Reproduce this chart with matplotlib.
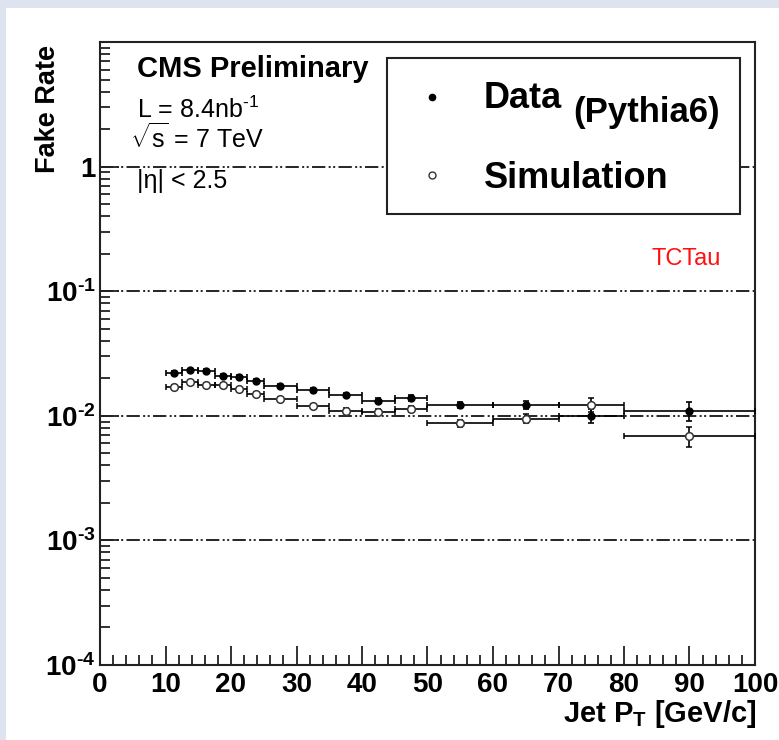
import matplotlib
matplotlib.use("Agg")
import matplotlib.pyplot as plt
import matplotlib.patches as patches
import numpy as np

plt.rcParams['font.family'] = ['Liberation Sans', 'DejaVu Sans']
plt.rcParams['mathtext.fontset'] = 'custom'
plt.rcParams['mathtext.rm'] = 'Liberation Sans'
plt.rcParams['mathtext.it'] = 'Liberation Sans:italic'
plt.rcParams['mathtext.bf'] = 'Liberation Sans:bold'

# ---- data ----
bin_lo = [10, 12.5, 15, 17.5, 20, 22.5, 25, 30, 35, 40, 45, 50, 60, 70, 80]
bin_hi = [12.5, 15, 17.5, 20, 22.5, 25, 30, 35, 40, 45, 50, 60, 70, 80, 100]
data_rate = [0.0222, 0.0231, 0.0229, 0.0210, 0.0204, 0.0190, 0.0175, 0.0161,
             0.0147, 0.0132, 0.0139, 0.0122, 0.0122, 0.0100, 0.0110]
data_err = [0.0008, 0.0008, 0.0008, 0.0007, 0.0007, 0.0006, 0.0006, 0.0006,
            0.0006, 0.0006, 0.0007, 0.0007, 0.0009, 0.0013, 0.0019]
sim_rate = [0.0170, 0.0186, 0.0177, 0.0177, 0.0163, 0.0150, 0.0136, 0.0120,
            0.0110, 0.0108, 0.0113, 0.0087, 0.0095, 0.0123, 0.0069]
sim_err = [0.0006, 0.0006, 0.0006, 0.0006, 0.0005, 0.0005, 0.0005, 0.0005,
           0.0005, 0.0005, 0.0006, 0.0006, 0.0008, 0.0016, 0.0013]
x_ticks = [0, 10, 20, 30, 40, 50, 60, 70, 80, 90, 100]
y_decades = [1e-4, 1e-3, 1e-2, 1e-1, 1]
y_tick_labels = ['10$^{\\mathbf{\u2010' + e + '}}$' for e in ['4', '3', '2', '1']] + ['1']

W, H = 779, 740
fig = plt.figure(figsize=(W / 100, H / 100), dpi=100)
fig.patch.set_facecolor('#dde4f0')
fig.patches.append(patches.Rectangle((6 / W, 0), 1, 1 - 8 / H, transform=fig.transFigure,
                                     facecolor='white', edgecolor='none', zorder=-10))

def fx(px):
    return px / W

def fy(py):
    return 1 - py / H

ax = fig.add_axes([fx(100), fy(665), (755 - 100) / W, (665 - 42) / H], zorder=1)
ax.set_facecolor('white')
ax.set_yscale('log')
ax.set_xlim(0, 100)
ax.set_ylim(1e-4, 10)

for s in ax.spines.values():
    s.set_linewidth(1.5)
    s.set_color('#222222')

ax.set_xticks(x_ticks)
ax.set_xticks(np.arange(0, 101, 2), minor=True)
ax.set_yticks(y_decades)
ax.set_yticklabels(y_tick_labels)
ax.tick_params(axis='both', which='major', direction='in', length=14, width=1.3,
               labelsize=20, top=False, right=False, color='#222222')
ax.tick_params(axis='both', which='minor', direction='in', length=7, width=1.3,
               top=False, right=False, color='#222222')
ax.tick_params(axis='x', which='major', pad=5)
ax.tick_params(axis='y', which='major', pad=3)
ax.yaxis.set_minor_locator(matplotlib.ticker.LogLocator(base=10, subs=np.arange(2, 10)))
ax.yaxis.set_minor_formatter(matplotlib.ticker.NullFormatter())
for lab in ax.get_xticklabels() + ax.get_yticklabels():
    lab.set_fontweight('bold')

# grid lines at decades
for yv in y_decades[1:]:
    ax.axhline(yv, color='black', linewidth=1.2,
               linestyle=(0, (8, 2, 1.2, 1.5, 1.2, 2)), zorder=1)

xc = [(a + b) / 2 for a, b in zip(bin_lo, bin_hi)]
xe = [(b - a) / 2 for a, b in zip(bin_lo, bin_hi)]

ax.errorbar(xc, data_rate, xerr=xe, yerr=data_err, fmt='o', color='black',
            markersize=5, markerfacecolor='black', markeredgecolor='black',
            elinewidth=1.2, capsize=2.5, capthick=1.2, zorder=3)
ax.errorbar(xc, sim_rate, xerr=xe, yerr=sim_err, fmt='o', color='black',
            markersize=5.5, markerfacecolor='white', markeredgecolor='#333333',
            markeredgewidth=1.1, elinewidth=1.2, capsize=2.5, capthick=1.2, zorder=3)

# legend box (manual, opaque)
leg = patches.Rectangle((fx(387), fy(214)), (740 - 387) / W, (214 - 58) / H,
                        transform=fig.transFigure, facecolor='white',
                        edgecolor='#222222', linewidth=1.5, zorder=5, clip_on=False)
ax.add_artist(leg)
ax.plot([fx(432)], [fy(97)], marker='o', markersize=4.5, color='black',
        transform=fig.transFigure, zorder=6, clip_on=False)
ax.plot([fx(432)], [fy(175)], marker='o', markersize=5, markerfacecolor='white',
        markeredgecolor='#333333', markeredgewidth=1, color='black',
        transform=fig.transFigure, zorder=6, clip_on=False)
ax.text(fx(484), fy(108), 'Data', fontsize=26, fontweight='bold', ha='left', va='baseline',
        transform=fig.transFigure, zorder=7)
ax.text(fx(573), fy(122), '(Pythia6)', fontsize=25, fontweight='bold', ha='left', va='baseline',
        transform=fig.transFigure, zorder=7)
ax.text(fx(484), fy(188), 'Simulation', fontsize=26, fontweight='bold', ha='left', va='baseline',
        transform=fig.transFigure, zorder=7)

# annotations
fig.text(fx(137), fy(77), 'CMS Preliminary', fontsize=21, fontweight='bold', ha='left', va='baseline')
fig.text(fx(137), fy(118), 'L = 8.4nb$^{\\mathregular{\u20101}}$', fontsize=18, ha='left', va='baseline')
fig.text(fx(130), fy(148), r'$\sqrt{\mathregular{s}}$ = 7 TeV', fontsize=18, ha='left', va='baseline')
fig.text(fx(137), fy(188), '|η| < 2.5', fontsize=18, ha='left', va='baseline')
fig.text(fx(651), fy(265), 'TCTau', fontsize=17, color='#ff1010', ha='left', va='baseline')

fig.text(fx(48), fy(45), 'Fake Rate', fontsize=19.5, fontweight='bold', rotation=90,
         ha='center', va='top')
fig.text(fx(757), fy(722), r'Jet P$_{\mathbf{T}}$ [GeV/c]', fontsize=21, fontweight='bold',
         ha='right', va='baseline')

fig.savefig('out.png', dpi=100)
